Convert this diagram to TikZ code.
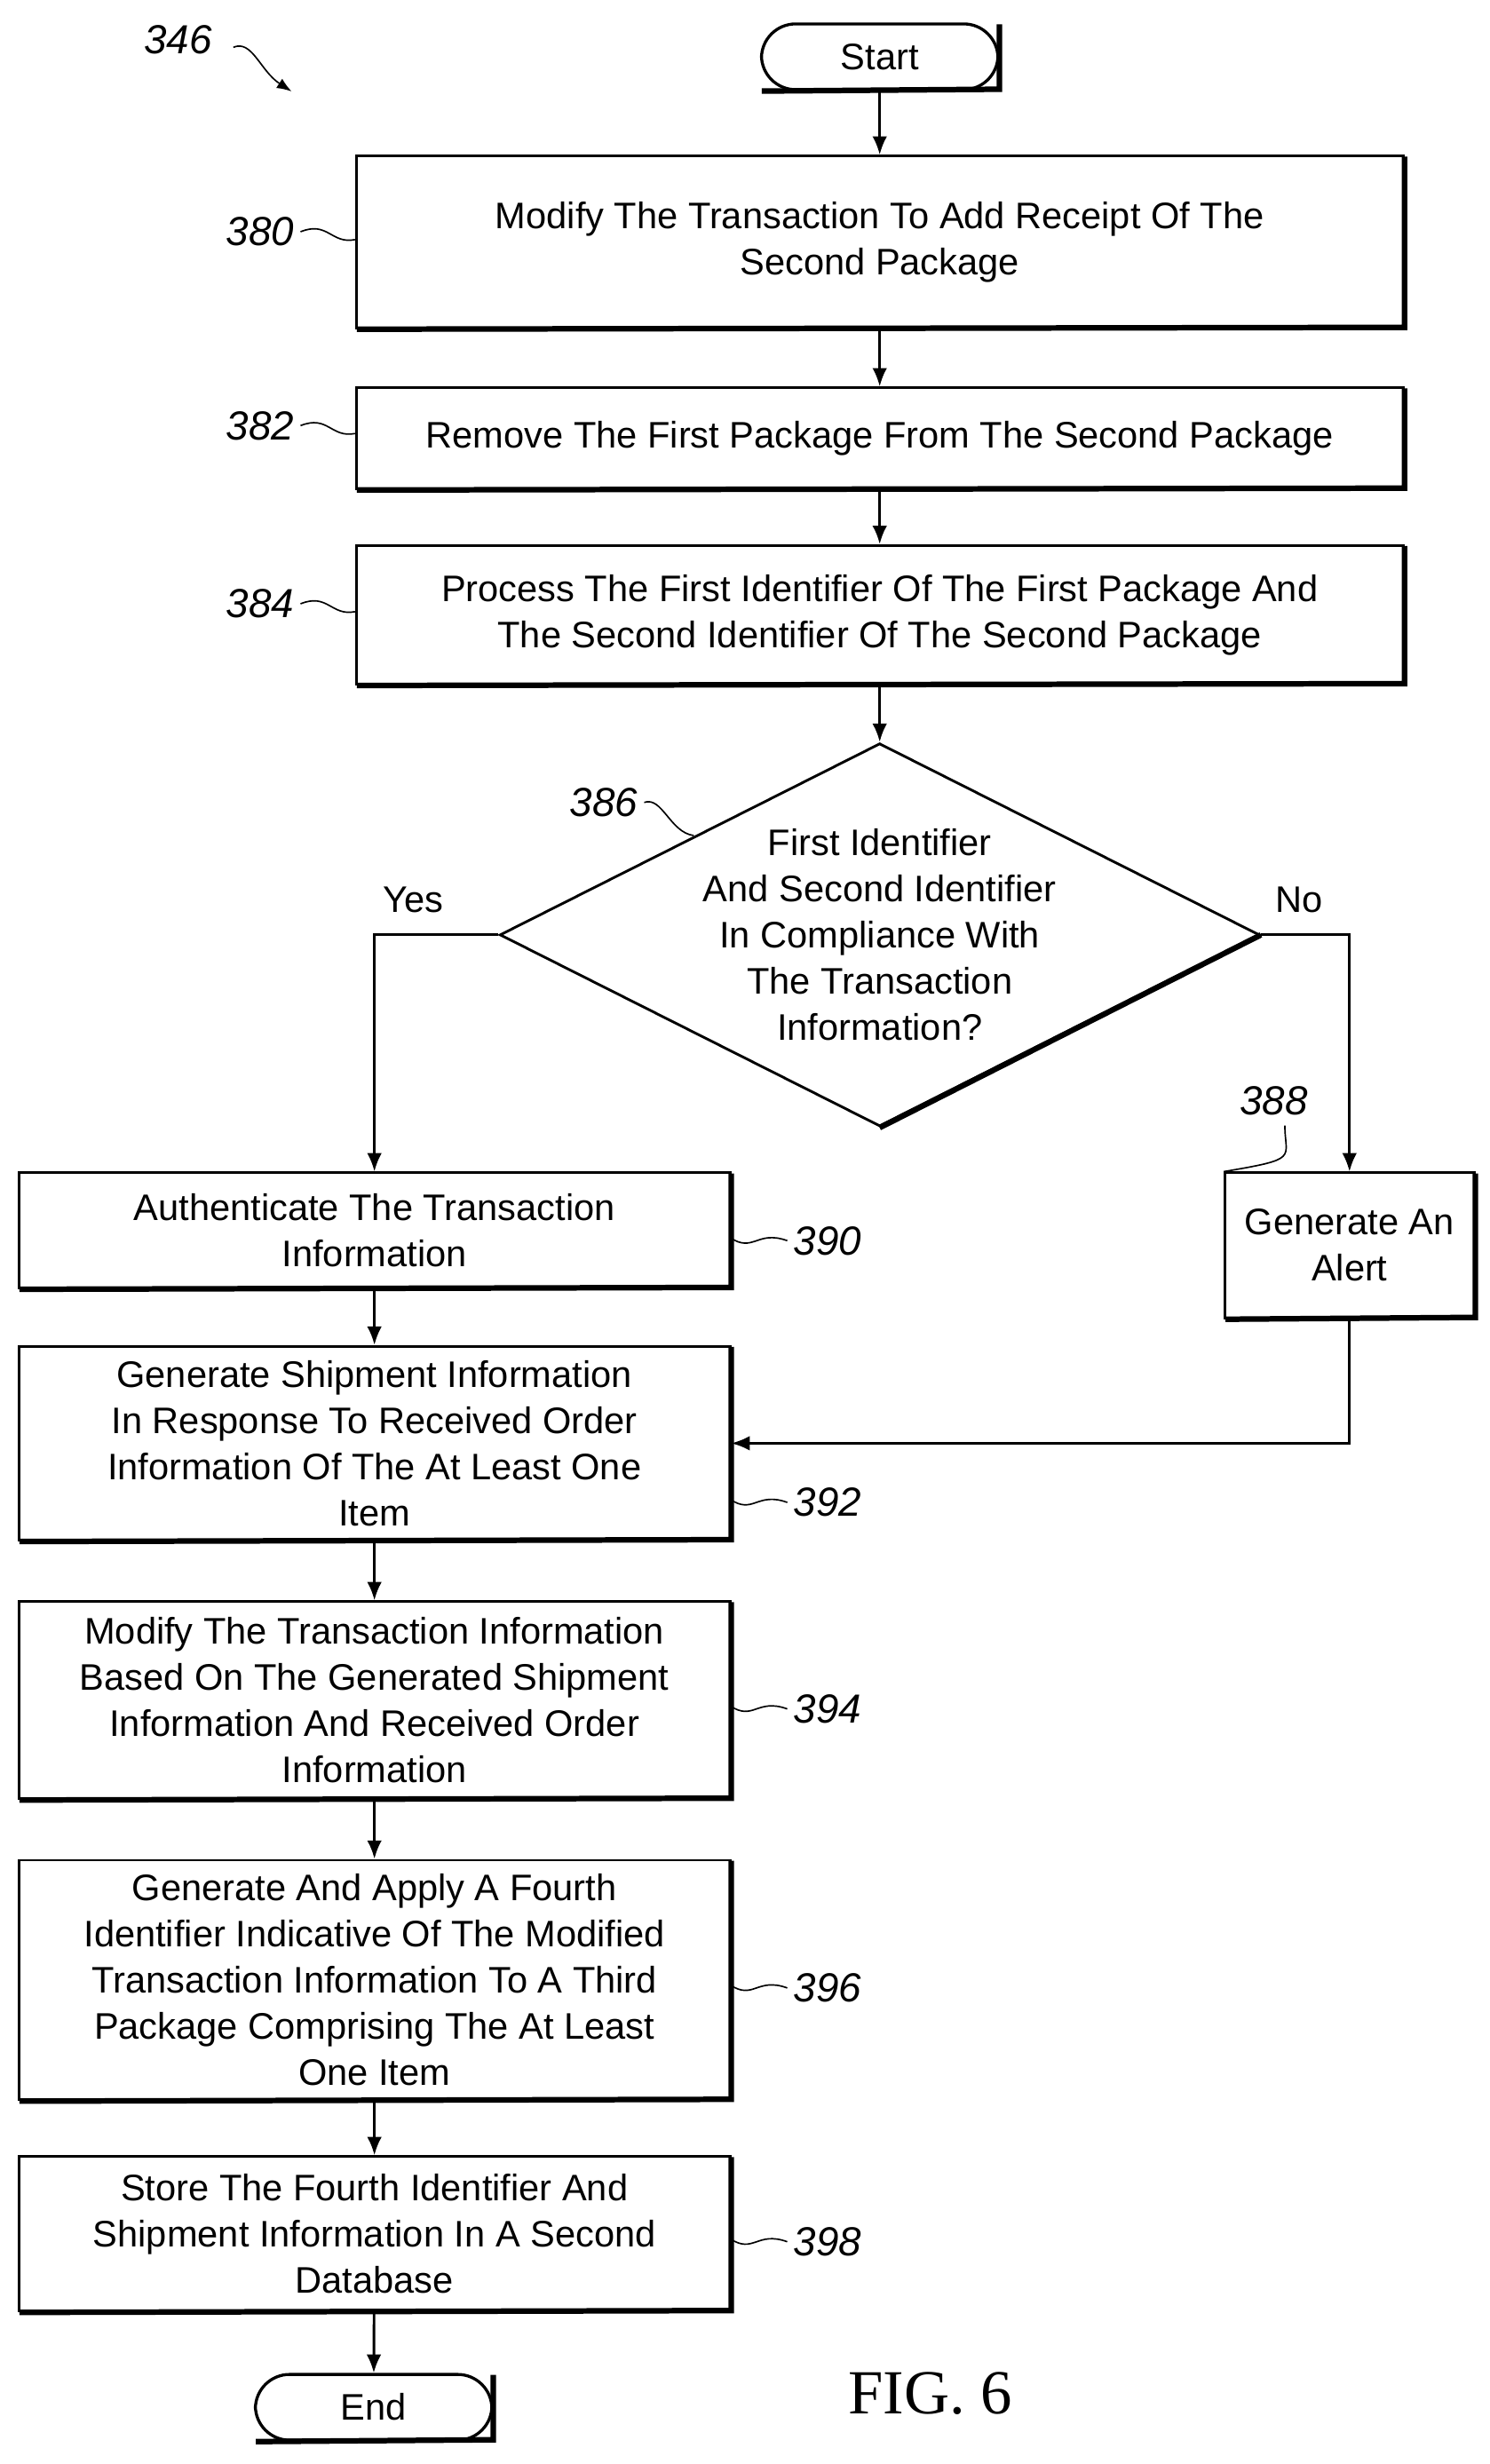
\documentclass[tikz,border=0pt]{standalone}
\usepackage{fontspec}
\setmainfont{Liberation Sans}
\newfontfamily\serifont{Liberation Serif}
\usetikzlibrary{shapes.geometric,arrows.meta}
\begin{document}
\begin{tikzpicture}[x=0.03cm,y=-0.03cm,
  every node/.style={font=\fontsize{20}{25}\selectfont},
  box/.style={draw,line width=1.4pt,align=center,inner sep=2pt},
  term/.style={draw,line width=1.6pt,rounded corners=0.65cm,minimum width=4.5cm,minimum height=1.25cm},
  arr/.style={line width=1.4pt,-{Latex[length=10pt,width=8pt]}},
  lab/.style={font=\itshape\fontsize{22}{26}\selectfont},
  sq/.style={line width=0.8pt}]
\useasboundingbox (0,0) rectangle (945,1563);
\newcommand{\shd}[1]{\draw[line width=3pt] ([xshift=1pt]#1.south west)--([yshift=1pt]#1.south east)--([yshift=-1pt]#1.north east);}
\node[term] (s) at (558,36) {Start};
\node[box,minimum width=19.92cm,minimum height=3.27cm] (b380) at (558,153.5) {Modify The Transaction To Add Receipt Of The\\Second Package};
\node[box,minimum width=19.92cm,minimum height=1.92cm] (b382) at (558,278) {Remove The First Package From The Second Package};
\node[box,minimum width=19.92cm,minimum height=2.64cm] (b384) at (558,390) {Process The First Identifier Of The First Package And\\The Second Identifier Of The Second Package};
\node[diamond,draw,line width=1.4pt,minimum width=14.46cm,minimum height=7.29cm,inner sep=0pt] (d) at (558,593) {};
\node[align=center] (dt) at (558,593) {First Identifier\\And Second Identifier\\In Compliance With\\The Transaction\\Information?};
\node[box,minimum width=4.74cm,minimum height=2.76cm] (b388) at (856,790) {Generate An\\Alert};
\node[box,minimum width=13.53cm,minimum height=2.19cm] (b390) at (237.5,780.5) {Authenticate The Transaction\\Information};
\node[box,minimum width=13.53cm,minimum height=3.69cm] (b392) at (237.5,915.5) {Generate Shipment Information\\In Response To Received Order\\Information Of The At Least One\\Item};
\node[box,minimum width=13.53cm,minimum height=3.75cm] (b394) at (237.5,1078.5) {Modify The Transaction Information\\Based On The Generated Shipment\\Information And Received Order\\Information};
\node[box,minimum width=13.53cm,minimum height=4.56cm] (b396) at (237.5,1256) {Generate And Apply A Fourth\\Identifier Indicative Of The Modified\\Transaction Information To A Third\\Package Comprising The At Least\\One Item};
\node[box,minimum width=13.53cm,minimum height=2.94cm] (b398) at (237.5,1417) {Store The Fourth Identifier And\\Shipment Information In A Second\\Database};
\node[term] (e) at (237,1527) {End};
\foreach \n in {s,b380,b382,b384,b388,b390,b392,b394,b396,b398,e} {\shd{\n}}
\draw[line width=3pt] (d.south)--(d.east);
\node at (590,1518) {\serifont\fontsize{34}{40}\selectfont FIG. 6};
% connectors
\draw[arr] (s)--(b380);
\draw[arr] (b380)--(b382);
\draw[arr] (b382)--(b384);
\draw[arr] (b384)--(d.north);
\draw[arr] (d.west) -| (b390.north);
\draw[arr] (d.east) -| (b388.north);
\draw[arr] (b388.south) |- (b392.east);
\draw[arr] (b390)--(b392);
\draw[arr] (b392)--(b394);
\draw[arr] (b394)--(b396);
\draw[arr] (b396)--(b398);
\draw[arr] (b398)--(e);
\node at (262,571) {Yes};
\node at (824,571) {No};
% labels
\node[lab] (l346) at (113,25) {346};
\draw[sq,-{Latex[length=8pt,width=6pt]}] (148,30) .. controls (160,25) and (165,45) .. (185,58);
\node[lab] (l380) at (165,147) {380};
\draw[sq] (l380.east) .. controls (208,140) and (210,155) .. (b380.west|-0,152);
\node[lab] (l382) at (165,270) {382};
\draw[sq] (l382.east) .. controls (208,263) and (210,278) .. (b382.west|-0,275);
\node[lab] (l384) at (165,383) {384};
\draw[sq] (l384.east) .. controls (208,376) and (210,391) .. (b384.west|-0,388);
\node[lab] (l386) at (383,509) {386};
\draw[sq] (l386.east) .. controls (420,505) and (425,528) .. (440,530);
\node[lab] (l388) at (808,698) {388};
\draw[sq] (815,714) .. controls (815,735) and (825,735) .. (b388.north west);
\foreach \n/\b/\y in {390/b390/787,392/b392/953,394/b394/1084,396/b396/1261,398/b398/1422}{
  \node[lab] (l\n) at (525,\y) {\n};
  \draw[sq] (l\n.west) .. controls (480,\y-7) and (478,\y+8) .. (463,\y-2);
}
\end{tikzpicture}
\end{document}
